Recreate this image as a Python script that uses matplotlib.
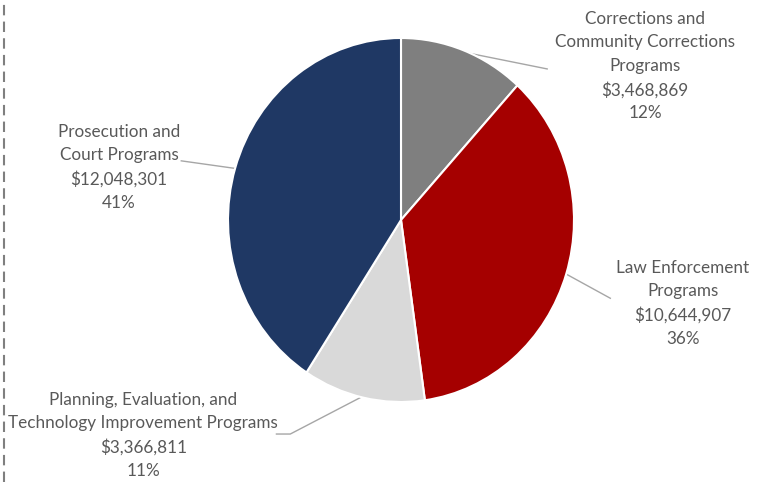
import matplotlib.pyplot as plt
from matplotlib.lines import Line2D
import numpy as np

programs = [
    "Corrections and\nCommunity Corrections\nPrograms",
    "Law Enforcement\nPrograms",
    "Planning, Evaluation, and\nTechnology Improvement Programs",
    "Prosecution and\nCourt Programs",
]
amounts = [3468869, 10644907, 3366811, 12048301]
colors = ["#7F7F7F", "#A50000", "#D9D9D9", "#1F3864"]

plt.rcParams['font.family'] = ['Lato', 'DejaVu Sans']

fig = plt.figure(figsize=(7.65, 4.82), dpi=100)
ax = fig.add_axes([228 / 765, 80 / 482, 346 / 765, 364 / 482])

wedges, _ = ax.pie(amounts, colors=colors, startangle=90, counterclock=False,
                   wedgeprops=dict(edgecolor="white", linewidth=1.5))
ax.set_aspect('auto')
ax.set_xlim(-1, 1)
ax.set_ylim(-1, 1)

total = sum(amounts)
# label centre and the elbow of the leader line (data units)
text_pos = [(1.41, 0.845), (1.63, -0.46), (-1.49, -1.185), (-1.63, 0.29)]
elbows = [[(0.845, 0.83)], [(1.21, -0.43)], [(-0.64, -1.176), (-0.72, -1.176)],
          [(-1.27, 0.325)]]

for w, name, amt, tp, elb in zip(wedges, programs, amounts, text_pos, elbows):
    ang = np.deg2rad((w.theta1 + w.theta2) / 2)
    start = (np.cos(ang) * 0.99, np.sin(ang) * 0.99)
    pts = [start] + elb
    ax.plot([p[0] for p in pts], [p[1] for p in pts], color="#A6A6A6",
            lw=1, clip_on=False, zorder=0)
    label = f"{name}\n${amt:,.0f}\n{amt / total:.0%}"
    ax.text(tp[0], tp[1], label, ha="center", va="center", fontsize=12.3,
            color="#595959", linespacing=1.56, clip_on=False)

fig.add_artist(Line2D([4 / 765, 4 / 765], [0, 1], transform=fig.transFigure,
                      color="#7F7F7F", lw=1.5, linestyle=(0, (5, 3))))

fig.savefig("out.png", dpi=100)
